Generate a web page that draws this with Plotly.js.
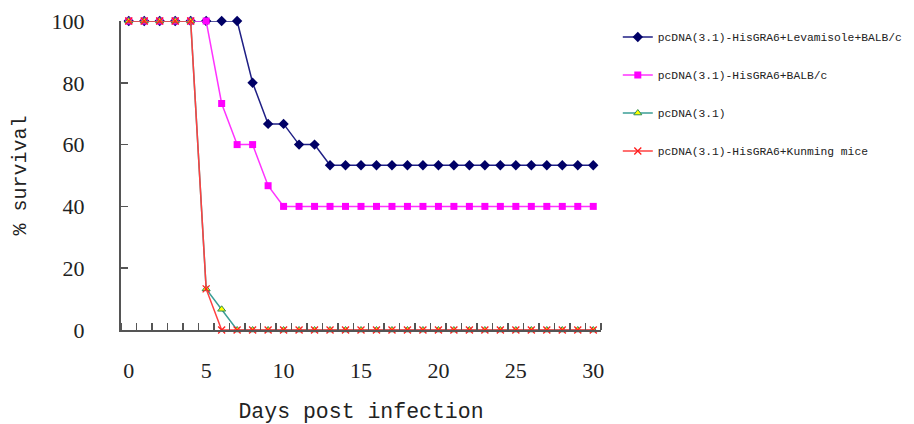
<!DOCTYPE html>
<html><head><meta charset="utf-8">
<script src="https://cdn.plot.ly/plotly-3.0.1.min.js"></script>
<style>html,body{margin:0;padding:0;background:#fff}#chart{width:914px;height:424px}</style>
</head><body><div id="chart"></div>
<script>
const days = [0,1,2,3,4,5,6,7,8,9,10,11,12,13,14,15,16,17,18,19,20,21,22,23,24,25,26,27,28,29,30];
const levamisole = [100,100,100,100,100,100,100,100,80,66.7,66.7,60,60,53.3,53.3,53.3,53.3,53.3,53.3,53.3,53.3,53.3,53.3,53.3,53.3,53.3,53.3,53.3,53.3,53.3,53.3];
const balbc = [100,100,100,100,100,100,73.3,60,60,46.7,40,40,40,40,40,40,40,40,40,40,40,40,40,40,40,40,40,40,40,40,40];
const pcdna = [100,100,100,100,100,13.3,6.7,0,0,0,0,0,0,0,0,0,0,0,0,0,0,0,0,0,0,0,0,0,0,0,0];
const kunming = [100,100,100,100,100,13.3,0,0,0,0,0,0,0,0,0,0,0,0,0,0,0,0,0,0,0,0,0,0,0,0,0];
const names = ["pcDNA(3.1)-HisGRA6+Levamisole+BALB/c","pcDNA(3.1)-HisGRA6+BALB/c","pcDNA(3.1)","pcDNA(3.1)-HisGRA6+Kunming mice"];
const xTicks = [0,5,10,15,20,25,30];

const traces = [
  {x: days, y: levamisole, name: names[0], legendgroup:'a', mode:'lines+markers', cliponaxis:false,
   line:{color:'#1f1f85', width:1.5}, marker:{symbol:'diamond', size:8, color:'#000066'}},
  {x: days, y: balbc, name: names[1], legendgroup:'b', mode:'lines+markers', cliponaxis:false,
   line:{color:'#ff33ff', width:1.5}, marker:{symbol:'square', size:7, color:'#ff00ff'}},
  {x: days, y: pcdna, name: names[2], legendgroup:'c', mode:'lines+markers', cliponaxis:false,
   line:{color:'#3a9e96', width:1.5}, marker:{symbol:'triangle-up', size:7, color:'#ffff00', line:{color:'#2e8b57', width:1}}},
  {x: days, y: kunming, name: names[3], legendgroup:'d', mode:'lines+markers', cliponaxis:false,
   line:{color:'#ff4040', width:1.5}, marker:{symbol:'x-thin-open', size:7, color:'#ff2020', line:{color:'#ff2020', width:1.3}}}
];

const layout = {
  width:914, height:424,
  paper_bgcolor:'#fff', plot_bgcolor:'#fff',
  margin:{l:121, r:313, t:21, b:94, autoexpand:false},
  showlegend:true,
  legend:{x:1.035, xanchor:'left', y:0.995, yanchor:'top', tracegroupgap:19, itemwidth:30,
    font:{family:'Liberation Mono, DejaVu Sans Mono, monospace', size:11.3, color:'#222'}, bgcolor:'rgba(0,0,0,0)'},
  xaxis:{range:[-0.5,30.5], tickvals:xTicks, ticktext:xTicks.map(String), ticks:'', showgrid:false, zeroline:false,
    showline:true, linecolor:'#555', linewidth:2, ticklabelstandoff:20,
    tickfont:{family:'Liberation Serif, Times New Roman, serif', size:22, color:'#222'},
    minor:{tick0:0.5, dtick:1, ticks:'inside', ticklen:7, tickcolor:'#555', tickwidth:1.5, showgrid:false},
    title:{text:'Days post infection', standoff:22, font:{family:'Liberation Mono, DejaVu Sans Mono, monospace', size:21.5, color:'#222'}}},
  yaxis:{range:[0,100], tickvals:[0,20,40,60,80,100], ticks:'inside', ticklen:7, tickcolor:'#555', tickwidth:1.5,
    showgrid:false, zeroline:false, showline:true, linecolor:'#555', linewidth:2, ticklabelstandoff:30,
    tickfont:{family:'Liberation Serif, Times New Roman, serif', size:22, color:'#222'},
    title:{text:'% survival', standoff:20, font:{family:'Liberation Mono, DejaVu Sans Mono, monospace', size:20, color:'#222'}}}
};
Plotly.newPlot('chart', traces, layout, {displayModeBar:false, staticPlot:true});
</script></body></html>
